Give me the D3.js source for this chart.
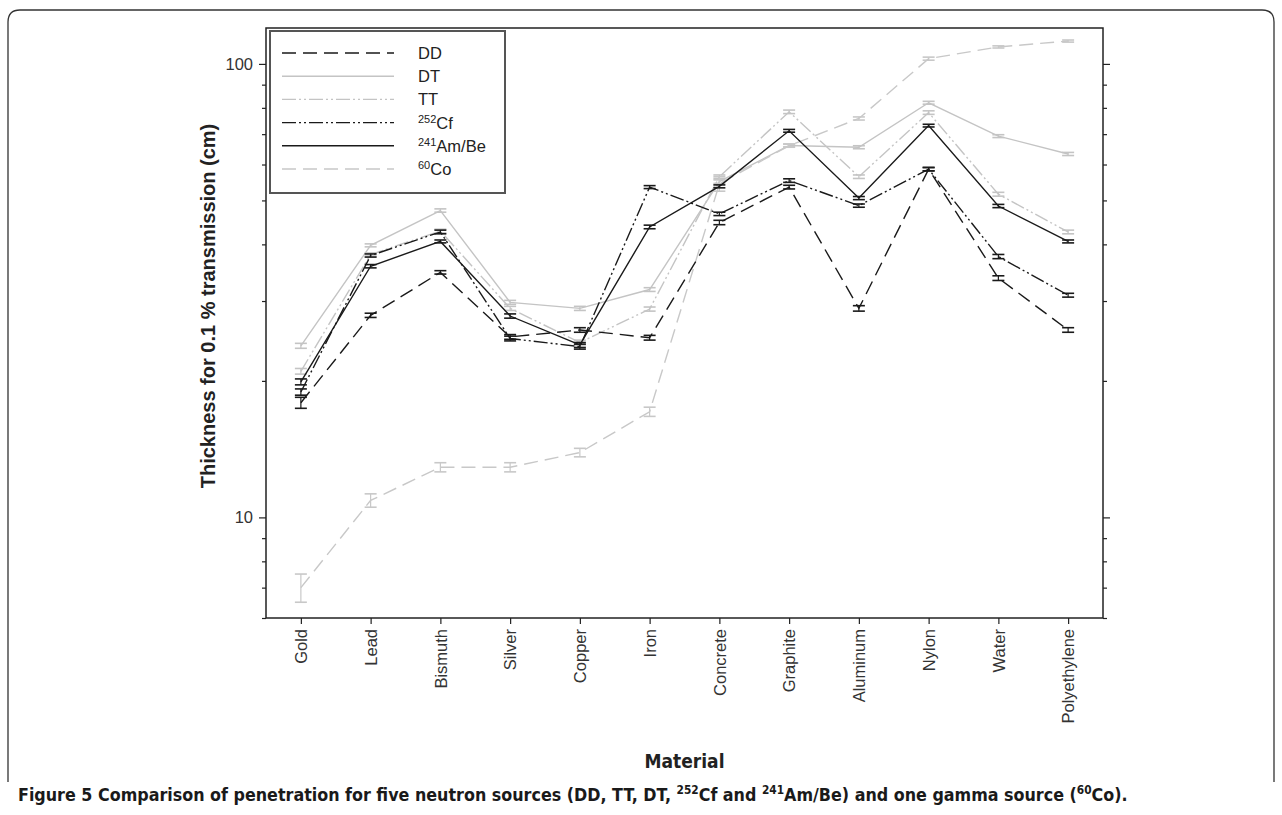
<!DOCTYPE html>
<html>
<head>
<meta charset="utf-8">
<script src="https://cdn.jsdelivr.net/npm/d3@7"></script>
<style>
  html, body { margin: 0; padding: 0; background: #fff; }
  svg { display: block; font-family: "Liberation Sans", Arial, sans-serif; }
</style>
</head>
<body>
<div id="chart"></div>
<script>
// materials on the x axis
const materials = ['Gold', 'Lead', 'Bismuth', 'Silver', 'Copper', 'Iron',
  'Concrete', 'Graphite', 'Aluminum', 'Nylon', 'Water', 'Polyethylene'];

// thickness for 0.1 % transmission (cm), one array per source
const ddValues   = [17.9, 27.9, 34.7, 25.0, 25.9, 24.9, 44.7, 53.5, 28.9, 58.6, 33.7, 25.9];
const dtValues   = [23.9, 39.8, 47.5, 29.8, 28.9, 31.8, 55.0, 66.1, 65.5, 82.1, 69.3, 63.3];
const ttValues   = [21.0, 38.0, 42.8, 28.9, 24.3, 28.8, 56.4, 78.4, 56.4, 78.1, 51.6, 42.6];
const cfValues   = [18.9, 37.8, 42.6, 24.8, 23.8, 53.5, 46.7, 55.3, 48.7, 58.6, 37.6, 30.9];
const ambeValues = [19.9, 35.8, 40.6, 27.8, 24.0, 43.7, 53.7, 71.2, 50.6, 73.1, 48.6, 40.6];
const coValues   = [7.0, 10.9, 12.9, 12.9, 13.9, 17.1, 54.4, 66.0, 75.8, 102.7, 109.0, 112.3];

// error bar half widths
const ddErr   = [0.5, 0.3, 0.3, 0.3, 0.3, 0.3, 0.5, 0.5, 0.4, 0.5, 0.4, 0.3];
const dtErr   = [0.3, 0.3, 0.4, 0.3, 0.3, 0.3, 0.5, 0.5, 0.5, 0.6, 0.5, 0.5];
const ttErr   = [0.3, 0.3, 0.4, 0.3, 0.3, 0.3, 0.5, 0.7, 0.5, 0.7, 0.5, 0.4];
const cfErr   = [0.3, 0.3, 0.4, 0.3, 0.3, 0.4, 0.4, 0.5, 0.4, 0.5, 0.4, 0.3];
const ambeErr = [0.3, 0.3, 0.3, 0.3, 0.3, 0.4, 0.4, 0.5, 0.4, 0.5, 0.4, 0.3];
const coErr   = [0.5, 0.37, 0.3, 0.3, 0.3, 0.4, 2.0, 0.5, 0.6, 0.8, 0.6, 0.6];

const majorTicks = [10, 100];
const minorTicks = [6, 7, 8, 9, 20, 30, 40, 50, 60, 70, 80, 90];

// series styles (drawn light ones first)
const series = [
  { name: 'DT',  sup: '',    label: 'DT',    values: dtValues,   err: dtErr,   color: '#c4c4c4', dash: null },
  { name: 'TT',  sup: '',    label: 'TT',    values: ttValues,   err: ttErr,   color: '#c4c4c4', dash: '14,3,2,3,2,3' },
  { name: 'Co',  sup: '60',  label: 'Co',    values: coValues,   err: coErr,   color: '#c8c8c8', dash: '14,7' },
  { name: 'DD',  sup: '',    label: 'DD',    values: ddValues,   err: ddErr,   color: '#1a1a1a', dash: '14,7' },
  { name: 'Cf',  sup: '252', label: 'Cf',    values: cfValues,   err: cfErr,   color: '#1a1a1a', dash: '14,3,2,3,2,3' },
  { name: 'AmBe', sup: '241', label: 'Am/Be', values: ambeValues, err: ambeErr, color: '#1a1a1a', dash: null }
];
const legendOrder = ['DD', 'DT', 'TT', 'Cf', 'AmBe', 'Co'];

const width = 1282, height = 815;
const plot = { left: 266, right: 1103, top: 28, bottom: 618 };
const condensed = '"DejaVu Sans Condensed", "Liberation Sans Narrow", "DejaVu Sans", sans-serif';

const svg = d3.select('#chart').append('svg')
  .attr('width', width)
  .attr('height', height);

// figure border (open at the bottom)
svg.append('path')
  .attr('d', 'M8,782 V22 Q8,10 20,10 H1262 Q1274,10 1274,22 V782')
  .attr('fill', 'none')
  .attr('stroke', '#333')
  .attr('stroke-width', 1.3);

const x = d3.scalePoint()
  .domain(materials)
  .range([plot.left, plot.right])
  .padding(0.5);

const y = d3.scaleLog()
  .domain([6, 120])
  .range([plot.bottom, plot.top]);

// left axis
svg.append('g')
  .attr('transform', `translate(${plot.left},0)`)
  .call(d3.axisLeft(y).tickValues(majorTicks).tickFormat(d3.format('d')).tickSize(7).tickPadding(6))
  .call(g => g.select('.domain').remove())
  .call(g => g.selectAll('text').attr('font-size', 16.5).attr('fill', '#333').attr('font-family', '"Liberation Sans", Arial, sans-serif'));
svg.append('g')
  .attr('transform', `translate(${plot.left},0)`)
  .call(d3.axisLeft(y).tickValues(minorTicks).tickFormat('').tickSize(4))
  .call(g => g.select('.domain').remove());

// right axis (ticks only)
svg.append('g')
  .attr('transform', `translate(${plot.right},0)`)
  .call(d3.axisRight(y).tickValues(majorTicks).tickFormat('').tickSize(7))
  .call(g => g.select('.domain').remove());
svg.append('g')
  .attr('transform', `translate(${plot.right},0)`)
  .call(d3.axisRight(y).tickValues(minorTicks).tickFormat('').tickSize(4))
  .call(g => g.select('.domain').remove());

// bottom axis
svg.append('g')
  .attr('transform', `translate(0,${plot.bottom})`)
  .call(d3.axisBottom(x).tickSize(6))
  .call(g => g.select('.domain').remove())
  .call(g => g.selectAll('text')
    .attr('font-size', 16.5)
    .attr('fill', '#333')
    .attr('font-family', '"Liberation Sans", Arial, sans-serif')
    .attr('text-anchor', 'end')
    .attr('transform', 'rotate(-90)')
    .attr('x', -11)
    .attr('y', 0)
    .attr('dy', '0.35em'));

svg.selectAll('.tick line').attr('stroke', '#222').attr('stroke-width', 1.2);

// plot frame
svg.append('rect')
  .attr('x', plot.left)
  .attr('y', plot.top)
  .attr('width', plot.right - plot.left)
  .attr('height', plot.bottom - plot.top)
  .attr('fill', 'none')
  .attr('stroke', '#222')
  .attr('stroke-width', 1.5);

// lines and error bars
const line = d3.line()
  .x((d, i) => x(materials[i]))
  .y(d => y(d));

series.forEach(s => {
  const g = svg.append('g').attr('class', 'series-' + s.name);
  g.append('path')
    .datum(s.values)
    .attr('d', line)
    .attr('fill', 'none')
    .attr('stroke', s.color)
    .attr('stroke-width', 1.4)
    .attr('stroke-dasharray', s.dash);

  const bars = g.selectAll('.err')
    .data(s.values.map((v, i) => ({ v, e: s.err[i], m: materials[i] })))
    .enter()
    .append('g')
    .attr('class', 'err');
  bars.append('line')
    .attr('x1', d => x(d.m)).attr('x2', d => x(d.m))
    .attr('y1', d => y(d.v + d.e)).attr('y2', d => y(d.v - d.e))
    .attr('stroke', s.color).attr('stroke-width', 1.2);
  [1, -1].forEach(sign => {
    bars.append('line')
      .attr('x1', d => x(d.m) - 6).attr('x2', d => x(d.m) + 6)
      .attr('y1', d => y(d.v + sign * d.e)).attr('y2', d => y(d.v + sign * d.e))
      .attr('stroke', s.color).attr('stroke-width', 1.6);
  });
});

// legend
const legend = svg.append('g');
legend.append('rect')
  .attr('x', 270).attr('y', 31)
  .attr('width', 235).attr('height', 162)
  .attr('fill', '#fff')
  .attr('stroke', '#555')
  .attr('stroke-width', 2);

legendOrder.forEach((name, i) => {
  const s = series.find(d => d.name === name);
  const ly = 53 + i * 23.2;
  legend.append('line')
    .attr('x1', 282).attr('x2', 394)
    .attr('y1', ly).attr('y2', ly)
    .attr('stroke', s.color)
    .attr('stroke-width', 1.4)
    .attr('stroke-dasharray', s.dash);
  const t = legend.append('text')
    .attr('x', 418)
    .attr('y', ly + 6)
    .attr('font-size', 16.5)
    .attr('fill', '#222');
  if (s.sup) {
    t.append('tspan').attr('font-size', 11).attr('dy', -6).text(s.sup);
    t.append('tspan').attr('dy', 6).text(s.label);
  } else {
    t.text(s.label);
  }
});

// axis titles
svg.append('text')
  .attr('transform', `translate(215,306) rotate(-90)`)
  .attr('text-anchor', 'middle')
  .attr('font-size', 20)
  .attr('font-weight', 'bold')
  .attr('fill', '#222')
  .text('Thickness for 0.1 % transmission (cm)');

svg.append('text')
  .attr('x', (plot.left + plot.right) / 2)
  .attr('y', 768)
  .attr('text-anchor', 'middle')
  .attr('font-size', 19)
  .attr('font-weight', 'bold')
  .attr('font-family', condensed)
  .attr('fill', '#222')
  .text('Material');

// caption
const cap = svg.append('text')
  .attr('x', 18)
  .attr('y', 801)
  .attr('font-size', 18)
  .attr('font-weight', 'bold')
  .attr('font-family', condensed)
  .attr('fill', '#1a1a1a');
cap.append('tspan').text('Figure 5 ');
cap.append('tspan').text('Comparison of penetration for five neutron sources (DD, TT, DT, ');
cap.append('tspan').attr('class', 'sup').attr('font-size', 12).attr('dy', -7).text('252');
cap.append('tspan').attr('dy', 7).text('Cf and ');
cap.append('tspan').attr('class', 'sup').attr('font-size', 12).attr('dy', -7).text('241');
cap.append('tspan').attr('dy', 7).text('Am/Be) and one gamma source (');
cap.append('tspan').attr('class', 'sup').attr('font-size', 12).attr('dy', -7).text('60');
cap.append('tspan').attr('dy', 7).text('Co).');

// fit caption to its width in the figure
const capScale = 1110 / cap.node().getComputedTextLength();
cap.attr('font-size', 18 * capScale);
cap.selectAll('tspan.sup').attr('font-size', 12 * capScale);
</script>
</body>
</html>
